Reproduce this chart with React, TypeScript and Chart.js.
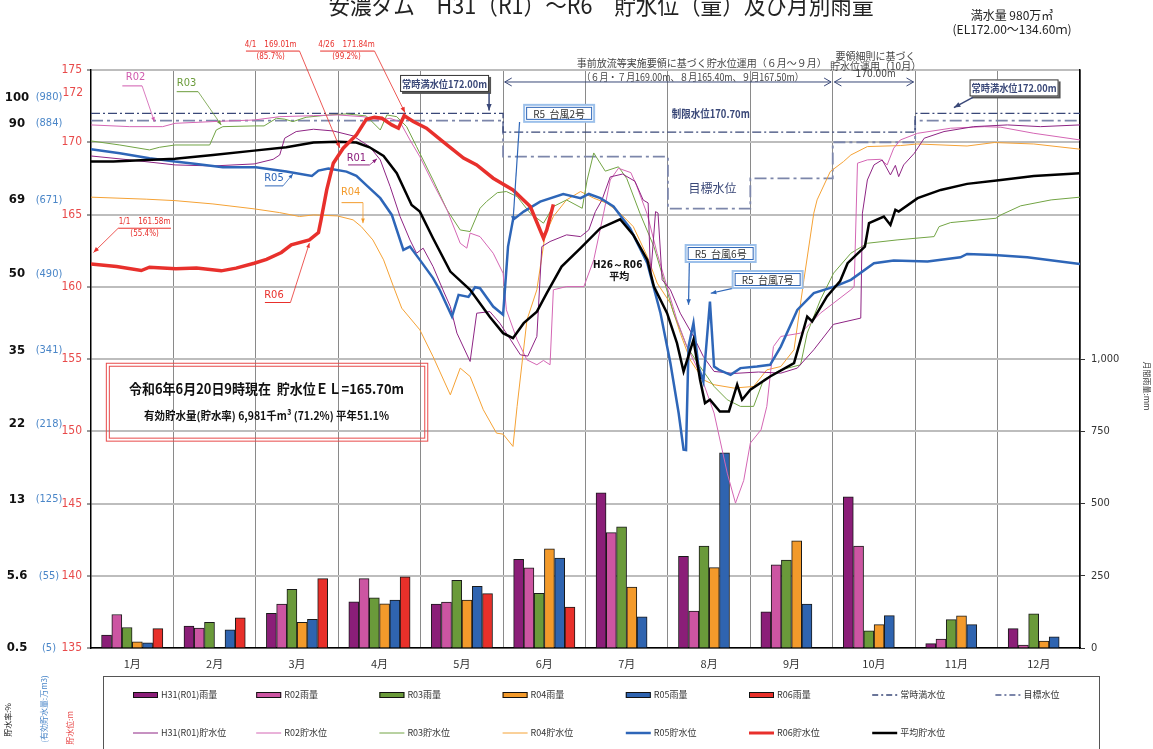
import React, { useEffect, useRef } from 'react';
import { Chart, registerables } from 'chart.js';
Chart.register(...registerables);

const JP = "'Noto Sans CJK JP', 'Noto Sans', sans-serif";
const NUM = "'DejaVu Sans Condensed', 'Liberation Sans Narrow', 'DejaVu Sans', sans-serif";

// ---------- categories / ticks ----------
const months = ['1月', '2月', '3月', '4月', '5月', '6月', '7月', '8月', '9月', '10月', '11月', '12月'];
const pctLabels = ['100', '90', '69', '50', '35', '22', '13', '5.6', '0.5'];
const volLabels = ['(980)', '(884)', '(671)', '(490)', '(341)', '(218)', '(125)', '(55)', '(5)'];
const storageLabelElev = [173.1, 171.3, 166.0, 160.9, 155.6, 150.5, 145.3, 140.0, 135.0];

// ---------- monthly rainfall (mm) ----------
const rainH31 = [45, 76, 120, 160, 152, 307, 537, 317, 125, 523, 15, 67];
const rainR02 = [116, 69, 152, 240, 159, 277, 399, 128, 288, 353, 31, 10];
const rainR03 = [71, 89, 203, 174, 234, 189, 419, 353, 304, 59, 98, 118];
const rainR04 = [21, null, 89, 153, 166, 343, 211, 278, 371, 81, 111, 24];
const rainR05 = [18, 63, 99, 166, 213, 311, 108, 675, 152, 112, 81, 39];
const rainR06 = [67, 104, 240, 246, 188, 142, null, null, null, null, null, null];

// ---------- water level (x = month position 0..12, y = EL m) ----------
const levelR06 = [[0, 161.58], [0.31, 161.4], [0.61, 161.12], [0.71, 161.35], [1.03, 161.24], [1.28, 161.29], [1.58, 161.1], [1.76, 161.29], [1.98, 161.63], [2.13, 161.9], [2.31, 162.37], [2.43, 162.9], [2.65, 163.24], [2.76, 163.75], [2.79, 164.6], [2.86, 166.7], [2.94, 168.55], [3.06, 169.59], [3.22, 170.5], [3.34, 171.59], [3.44, 171.73], [3.53, 171.66], [3.65, 171.2], [3.73, 170.97], [3.8, 171.84], [3.91, 171.43], [4.07, 170.97], [4.27, 170.04], [4.52, 168.9], [4.68, 168.43], [4.88, 167.51], [5.12, 166.7], [5.33, 165.55], [5.49, 163.36], [5.53, 163.93], [5.61, 165.7]];
const levelR05 = [[0, 169.52], [0.35, 169.24], [0.71, 168.9], [1.02, 168.66], [1.28, 168.5], [1.6, 168.27], [2.0, 168.27], [2.37, 167.97], [2.68, 167.67], [2.76, 168.04], [2.88, 168.18], [3.1, 167.97], [3.22, 167.67], [3.36, 166.93], [3.51, 166.13], [3.65, 164.97], [3.79, 162.55], [3.87, 162.78], [3.99, 161.86], [4.15, 160.6], [4.23, 159.79], [4.38, 157.94], [4.46, 159.44], [4.58, 159.3], [4.66, 159.97], [4.72, 159.9], [4.88, 158.63], [5.0, 158.06], [5.06, 162.78], [5.12, 164.63], [5.25, 165.2], [5.45, 165.89], [5.73, 166.42], [5.94, 166.13], [6.04, 166.42], [6.18, 166.13], [6.34, 165.55], [6.54, 164.05], [6.75, 161.63], [6.91, 158.17], [7.03, 154.72], [7.13, 151.26], [7.19, 148.72], [7.22, 148.7], [7.25, 155.86], [7.31, 157.48], [7.37, 154.48], [7.43, 153.44], [7.51, 158.98], [7.56, 154.48], [7.62, 154.25], [7.76, 153.9], [7.88, 154.37], [8.08, 154.48], [8.24, 154.6], [8.37, 155.86], [8.57, 158.4], [8.77, 159.56], [9.02, 160.01], [9.22, 160.48], [9.5, 161.63], [9.74, 161.81], [10.15, 161.74], [10.55, 162.04], [10.63, 162.27], [10.96, 162.2], [11.36, 162.04], [12, 161.58]];
const levelAvg = [[0, 168.66], [0.27, 168.66], [0.67, 168.78], [1.02, 168.85], [1.48, 169.12], [1.98, 169.42], [2.37, 169.65], [2.7, 169.98], [2.99, 170.04], [3.22, 169.98], [3.38, 169.65], [3.55, 169.05], [3.71, 167.86], [3.89, 165.66], [3.99, 165.2], [4.15, 163.36], [4.36, 161.05], [4.6, 159.79], [4.84, 157.9], [5.0, 156.79], [5.12, 156.44], [5.25, 157.48], [5.41, 158.28], [5.53, 159.56], [5.71, 161.4], [5.94, 162.67], [6.18, 164.05], [6.42, 164.67], [6.58, 163.59], [6.75, 161.86], [6.83, 160.01], [6.99, 158.17], [7.11, 156.1], [7.19, 154.14], [7.31, 156.33], [7.39, 153.56], [7.45, 151.95], [7.51, 152.18], [7.63, 151.37], [7.74, 151.37], [7.84, 153.22], [7.9, 152.18], [8.0, 152.87], [8.24, 153.79], [8.53, 154.72], [8.69, 157.94], [8.75, 157.6], [8.93, 159.33], [9.09, 160.4], [9.18, 161.63], [9.39, 162.78], [9.44, 164.4], [9.62, 164.86], [9.7, 164.28], [9.76, 165.32], [9.8, 165.2], [10.03, 166.13], [10.31, 166.7], [10.63, 167.12], [11.04, 167.39], [11.44, 167.67], [12, 167.86]];
const levelH31 = [[0, 169.05], [0.47, 168.78], [1.02, 168.43], [1.48, 168.36], [1.98, 168.5], [2.21, 168.82], [2.29, 169.12], [2.35, 170.28], [2.49, 170.74], [2.7, 170.9], [2.94, 170.78], [3.18, 170.44], [3.38, 169.7], [3.51, 168.78], [3.63, 166.93], [3.75, 164.86], [3.87, 163.24], [3.95, 162.32], [4.03, 162.67], [4.15, 161.4], [4.27, 159.79], [4.36, 158.63], [4.44, 156.79], [4.6, 154.83], [4.68, 158.17], [4.84, 158.28], [4.96, 157.48], [5.21, 155.29], [5.3, 155.2], [5.41, 156.56], [5.47, 162.78], [5.57, 163.13], [5.77, 163.59], [5.94, 163.47], [6.04, 163.93], [6.12, 165.2], [6.2, 166.01], [6.3, 167.6], [6.45, 167.8], [6.6, 167.3], [6.7, 166.0], [6.76, 165.8], [6.79, 160.71], [6.85, 165.2], [6.88, 165.1], [6.93, 160.48], [7.03, 159.79], [7.15, 158.17], [7.31, 156.56], [7.43, 155.17], [7.56, 154.14], [7.8, 154.0], [8.1, 154.1], [8.37, 154.02], [8.57, 154.37], [8.77, 155.64], [9.01, 157.4], [9.34, 157.83], [9.36, 165.09], [9.42, 167.39], [9.5, 168.43], [9.6, 168.78], [9.7, 167.74], [9.76, 168.4], [9.8, 167.62], [9.86, 168.43], [9.99, 169.24], [10.11, 170.28], [10.35, 170.74], [10.71, 171.08], [11.12, 171.2], [11.52, 171.08], [12, 171.2]];
const levelR02 = [[0, 171.2], [0.47, 171.08], [0.87, 171.08], [1.02, 171.31], [1.48, 171.43], [1.98, 171.54], [2.29, 171.77], [2.7, 171.84], [2.99, 171.89], [3.3, 171.77], [3.51, 171.54], [3.63, 171.66], [3.75, 171.4], [3.87, 170.16], [3.99, 169.0], [4.15, 167.16], [4.32, 165.32], [4.48, 163.01], [4.56, 162.67], [4.6, 163.71], [4.72, 163.47], [4.88, 162.32], [5.0, 160.94], [5.04, 158.4], [5.17, 156.33], [5.29, 154.94], [5.41, 154.6], [5.49, 154.9], [5.57, 154.6], [5.61, 159.79], [5.77, 160.01], [5.98, 160.01], [6.1, 161.86], [6.22, 165.09], [6.3, 167.39], [6.4, 168.2], [6.55, 167.9], [6.62, 167.0], [6.75, 165.0], [6.87, 162.3], [6.99, 160.0], [7.11, 157.7], [7.23, 155.86], [7.39, 154.0], [7.56, 151.26], [7.72, 147.1], [7.82, 145.03], [7.92, 146.6], [8.0, 149.18], [8.13, 150.1], [8.2, 151.72], [8.28, 155.86], [8.37, 156.56], [8.61, 156.79], [8.85, 158.17], [9.22, 159.79], [9.26, 160.01], [9.3, 168.55], [9.42, 168.78], [9.58, 168.82], [9.66, 168.43], [9.74, 169.59], [9.82, 170.16], [10.03, 170.62], [10.43, 170.97], [10.84, 171.08], [11.04, 171.04], [11.44, 170.62], [12, 170.16]];
const levelR03 = [[0, 170.09], [0.35, 169.81], [0.71, 169.47], [0.83, 169.65], [1.02, 169.81], [1.44, 169.81], [1.52, 170.85], [1.6, 171.08], [1.98, 171.13], [2.1, 171.13], [2.25, 171.66], [2.35, 171.6], [2.45, 171.43], [2.61, 171.73], [2.89, 171.89], [3.1, 171.96], [3.34, 171.82], [3.51, 170.85], [3.59, 171.89], [3.71, 171.77], [3.83, 171.08], [3.95, 169.7], [4.15, 167.39], [4.32, 165.32], [4.48, 163.93], [4.6, 163.82], [4.72, 165.43], [4.8, 165.9], [4.93, 166.51], [5.04, 166.59], [5.17, 166.24], [5.33, 165.09], [5.49, 164.4], [5.61, 165.55], [5.77, 166.01], [5.96, 165.43], [6.02, 167.39], [6.1, 169.26], [6.24, 168.0], [6.4, 168.3], [6.5, 167.5], [6.66, 165.09], [6.83, 162.78], [6.95, 160.48], [7.07, 158.17], [7.23, 155.86], [7.39, 154.48], [7.56, 153.1], [7.72, 152.18], [7.88, 151.72], [8.04, 151.72], [8.16, 153.56], [8.37, 154.25], [8.61, 154.6], [8.69, 156.79], [8.85, 159.09], [9.01, 160.94], [9.22, 162.32], [9.42, 163.01], [9.78, 163.24], [10.23, 163.47], [10.29, 164.16], [10.43, 164.44], [10.98, 164.74], [11.04, 164.97], [11.28, 165.6], [11.65, 166.01], [12, 166.2]];
const levelR04 = [[0, 166.2], [0.67, 166.06], [1.02, 165.96], [1.48, 165.73], [1.98, 165.39], [2.29, 165.13], [2.53, 164.86], [2.7, 164.97], [2.99, 164.9], [3.18, 164.63], [3.28, 164.16], [3.42, 163.24], [3.55, 161.86], [3.67, 160.01], [3.77, 158.52], [3.99, 157.02], [4.15, 155.17], [4.36, 152.52], [4.48, 154.37], [4.6, 153.79], [4.76, 151.49], [4.92, 149.87], [5.0, 149.8], [5.12, 148.95], [5.17, 151.72], [5.29, 157.71], [5.41, 159.79], [5.51, 163.59], [5.61, 164.86], [5.77, 166.01], [5.94, 166.59], [6.1, 166.13], [6.26, 165.78], [6.42, 165.09], [6.58, 164.16], [6.75, 162.09], [6.87, 160.25], [7.03, 158.86], [7.15, 156.79], [7.27, 154.94], [7.43, 153.56], [7.56, 153.22], [7.8, 152.99], [8.04, 153.1], [8.2, 154.25], [8.37, 154.48], [8.53, 155.64], [8.65, 160.48], [8.77, 165.09], [8.81, 166.01], [8.97, 167.97], [9.13, 168.66], [9.22, 169.12], [9.42, 169.7], [9.82, 169.77], [10.03, 169.88], [10.63, 169.74], [10.96, 169.98], [11.44, 169.88], [12, 169.52]];
// reference levels
const fullLevel = [[0, 172], [5, 172], [5, 170.7], [10, 170.7], [10, 172], [12, 172]];
const targetLevel = [[0, 171.5], [5, 171.5], [5, 169], [7, 169], [7, 165.4], [8, 165.4], [8, 167.5], [9, 167.5], [9, 170], [10, 170], [10, 171.5], [12, 171.5]];

const toXY = (arr) => arr.map(([x, y]) => ({ x, y }));
const BAR_SLOT = 0.1245; // share of one month taken by each bar of a group (6 bars)

const barDs = (label, data, color, k) => ({
  type: 'bar', label,
  data: data.map((v, i) => ({ x: i + 0.5 + (k - 2.5) * BAR_SLOT, y: v })),
  backgroundColor: color, borderColor: '#1a1a1a', borderWidth: 1,
  xAxisID: 'x2', yAxisID: 'y2', order: 50, barThickness: 10, grouped: false,
  legendRow: 0, legendCol: k, legendKind: 'bar',
});
const lineDs = (label, pts, color, width, col, row, order, dash = []) => ({
  type: 'line', label, data: toXY(pts), borderColor: color, backgroundColor: color, borderWidth: width,
  pointRadius: 0, pointHoverRadius: 0, tension: 0, fill: false, xAxisID: 'x2', yAxisID: 'y', order,
  borderDash: dash, legendRow: row, legendCol: col, legendKind: 'line',
});

function txt(ctx, s, x, y, font, color, align = 'center', maxW = 0) {
  ctx.font = font; ctx.fillStyle = color; ctx.textAlign = align; ctx.textBaseline = 'middle';
  if (maxW) ctx.fillText(s, x, y, maxW); else ctx.fillText(s, x, y);
}
function seg(ctx, x1, y1, x2, y2, color, lw = 1) {
  ctx.strokeStyle = color; ctx.lineWidth = lw; ctx.beginPath(); ctx.moveTo(x1, y1); ctx.lineTo(x2, y2); ctx.stroke();
}
function arrow(ctx, x1, y1, x2, y2, color, lw = 1, head = 6) {
  seg(ctx, x1, y1, x2, y2, color, lw);
  const a = Math.atan2(y2 - y1, x2 - x1);
  ctx.fillStyle = color; ctx.beginPath(); ctx.moveTo(x2, y2);
  ctx.lineTo(x2 - head * Math.cos(a - 0.38), y2 - head * Math.sin(a - 0.38));
  ctx.lineTo(x2 - head * Math.cos(a + 0.38), y2 - head * Math.sin(a + 0.38));
  ctx.closePath(); ctx.fill();
}
function chevArrow(ctx, x1, x2, y, color) {
  seg(ctx, x1, y, x2, y, color, 1);
  seg(ctx, x1, y, x1 + 7, y - 4, color); seg(ctx, x1, y, x1 + 7, y + 4, color);
  seg(ctx, x2, y, x2 - 7, y - 4, color); seg(ctx, x2, y, x2 - 7, y + 4, color);
}
function rot(ctx, s, x, y, ang, font, color) {
  ctx.save(); ctx.translate(x, y); ctx.rotate(ang); txt(ctx, s, 0, 0, font, color); ctx.restore();
}

const seriesTags = [
  { text: 'R02', color: '#D05AAE', m: 0.54, e: 174.5, u1: 0.38, u2: 0.62, ue: 173.9, to: [0.77, 171.42] },
  { text: 'R03', color: '#6C9C3C', m: 1.16, e: 174.1, u1: 1.04, u2: 1.3, ue: 173.5, to: [1.58, 171.2] },
  { text: 'R01', color: '#8B1E7C', m: 3.22, e: 168.9, u1: 3.12, u2: 3.38, ue: 168.43, to: [3.47, 168.85] },
  { text: 'R05', color: '#2E66B8', m: 2.22, e: 167.51, u1: 2.11, u2: 2.33, ue: 166.98, to: [2.45, 167.81] },
  { text: 'R04', color: '#F39B2C', m: 3.15, e: 166.52, u1: 3.04, u2: 3.3, ue: 165.82, to: [3.3, 164.4] },
  { text: 'R06', color: '#E8302C', m: 2.22, e: 159.44, u1: 2.11, u2: 2.42, ue: 158.91, to: [2.65, 163.02] },
];
const redNotes = [
  { l1: '1/1　161.58m', l2: '(55.4%)', m: 0.65, u1: 0.33, u2: 0.97, ue: 164.05, from: [0.33, 164.05], to: [0.03, 162.37] },
  { l1: '4/1　169.01m', l2: '(85.7%)', m: 2.18, u1: 1.88, u2: 2.53, ue: 176.31, from: [2.53, 176.31], to: [3.02, 169.6] },
  { l1: '4/26　171.84m', l2: '(99.2%)', m: 3.1, u1: 2.78, u2: 3.44, ue: 176.31, from: [3.44, 176.31], to: [3.81, 172.05] },
];
const typhoons = [
  { text: 'R5  台風2号', m: 5.68, e: 172.0, from: [5.2, 171.4], to: [5.12, 164.5] },
  { text: 'R5  台風6号', m: 7.64, e: 162.3, from: [7.26, 161.7], to: [7.25, 158.75] },
  { text: 'R5  台風7号', m: 8.21, e: 160.5, from: [7.8, 159.9], to: [7.52, 159.55] },
];

const extrasPlugin = {
  id: 'extras',
  afterDraw(chart) {
    const ctx = chart.ctx;
    const X = (m) => chart.scales.x2.getPixelForValue(m);
    const Y = (e) => chart.scales.y.getPixelForValue(e);
    ctx.save();

    // title
    txt(ctx, '安濃ダム　H31（R1）～R6　貯水位（量）及び月別雨量', 601, 5, `24px ${JP}`, '#222', 'center', 545);
    txt(ctx, '満水量 980万㎥', 1012, 15, `12px ${JP}`, '#222');
    txt(ctx, '(EL172.00～134.60ｍ)', 1012, 29, `12px ${JP}`, '#222', 'center', 128);

    // left storage columns
    pctLabels.forEach((s, i) => txt(ctx, s, 17, Y(storageLabelElev[i]), `bold 13px ${NUM}`, '#111'));
    volLabels.forEach((s, i) => txt(ctx, s, 49, Y(storageLabelElev[i]), `11px ${NUM}`, '#4a86c8'));
    txt(ctx, '172', 83, Y(173.4), `12px ${NUM}`, '#E84A4A', 'right');
    rot(ctx, '貯水率:%', 8, 720, -Math.PI / 2, `8px ${JP}`, '#222');
    rot(ctx, '(有効貯水量:万m3)', 44, 709, -Math.PI / 2, `8px ${JP}`, '#4a86c8');
    rot(ctx, '貯水位:m', 70, 728, -Math.PI / 2, `8px ${JP}`, '#E84A4A');
    rot(ctx, '月間雨量:mm', 1147, 386, Math.PI / 2, `8px ${JP}`, '#333');

    // operation notes
    const navy = '#3A4878';
    txt(ctx, '事前放流等実施要領に基づく貯水位運用（６月～９月）', X(7.41), Y(175.48), `10px ${JP}`, '#444', 'center', 250);
    txt(ctx, '（６月・７月169.00m、８月165.40m、９月167.50m）', X(7.3), Y(174.52), `10px ${JP}`, '#444', 'center', 222);
    chevArrow(ctx, X(5.02), X(8.98), Y(174.17), navy);
    txt(ctx, '要領細則に基づく', X(9.52), Y(175.97), `10px ${JP}`, '#444');
    txt(ctx, '貯水位運用（10月）', X(9.52), Y(175.28), `10px ${JP}`, '#444');
    txt(ctx, '170.00m', X(9.52), Y(174.72), `10px ${NUM}`, '#444');
    chevArrow(ctx, X(9.02), X(9.98), Y(174.17), navy);
    txt(ctx, '制限水位170.70m', X(7.52), Y(171.96), `bold 11px ${JP}`, navy, 'center', 78);
    txt(ctx, '目標水位', X(7.54), Y(166.77), `12px ${JP}`, navy);

    // full water level boxes
    const fullBox = (m, e, am1, ae1, am2, ae2) => {
      const cx = X(m), cy = Y(e), w = 89, h = 17;
      ctx.fillStyle = '#555'; ctx.fillRect(cx - w / 2 + 2, cy - h / 2 + 2, w, h);
      ctx.fillStyle = '#fff'; ctx.fillRect(cx - w / 2, cy - h / 2, w, h);
      ctx.strokeStyle = '#333'; ctx.lineWidth = 1; ctx.strokeRect(cx - w / 2 + 0.5, cy - h / 2 + 0.5, w - 1, h - 1);
      txt(ctx, '常時満水位172.00m', cx, cy + 0.5, `bold 10px ${JP}`, navy, 'center', w - 4);
      arrow(ctx, X(am1), Y(ae1), X(am2), Y(ae2), navy, 1.5, 7);
    };
    fullBox(4.29, 174.07, 4.83, 173.4, 4.83, 172.2);
    fullBox(11.2, 173.76, 10.7, 173.1, 10.47, 172.4);

    // typhoon boxes
    typhoons.forEach((t) => {
      const cx = X(t.m), cy = Y(t.e), w = 70, h = 17;
      arrow(ctx, X(t.from[0]), Y(t.from[1]), X(t.to[0]), Y(t.to[1]), '#2E66B8', 1.2, 6);
      ctx.fillStyle = '#fff'; ctx.fillRect(cx - w / 2, cy - h / 2, w, h);
      ctx.strokeStyle = '#9cc0ea'; ctx.lineWidth = 2; ctx.strokeRect(cx - w / 2, cy - h / 2, w, h);
      ctx.strokeStyle = '#2E66B8'; ctx.lineWidth = 1; ctx.strokeRect(cx - w / 2 + 2.5, cy - h / 2 + 2.5, w - 5, h - 5);
      txt(ctx, t.text, cx, cy + 0.5, `10px ${JP}`, '#333');
    });

    // average label
    txt(ctx, 'H26～R06', X(6.39), Y(161.5), `bold 10px ${NUM}`, '#111');
    txt(ctx, '平均', X(6.41), Y(160.7), `bold 10px ${JP}`, '#111');

    // series tags
    seriesTags.forEach((t) => {
      txt(ctx, t.text, X(t.m), Y(t.e), `11px ${NUM}`, t.color);
      seg(ctx, X(t.u1), Y(t.ue), X(t.u2), Y(t.ue), t.color, 1);
      arrow(ctx, X(t.u2), Y(t.ue), X(t.to[0]), Y(t.to[1]), t.color, 0.8, 5);
    });

    // red notes
    redNotes.forEach((n) => {
      const red = '#E8302C';
      txt(ctx, n.l1, X(n.m), Y(n.ue) - 6, `8px ${NUM}`, red);
      txt(ctx, n.l2, X(n.m), Y(n.ue) + 6, `8px ${NUM}`, red);
      seg(ctx, X(n.u1), Y(n.ue), X(n.u2), Y(n.ue), red, 1);
      arrow(ctx, X(n.from[0]), Y(n.from[1]), X(n.to[0]), Y(n.to[1]), red, 0.8, 6);
    });

    // info box
    const bx1 = X(0.18), bx2 = X(4.08), by1 = Y(154.74), by2 = Y(149.35);
    ctx.strokeStyle = '#E84A4A'; ctx.lineWidth = 1;
    ctx.strokeRect(bx1 + 0.5, by1 + 0.5, bx2 - bx1, by2 - by1);
    ctx.strokeRect(bx1 + 3.5, by1 + 3.5, bx2 - bx1 - 6, by2 - by1 - 6);
    const bcx = (bx1 + bx2) / 2;
    txt(ctx, '令和6年6月20日9時現在  貯水位ＥＬ=165.70m', bcx, Y(152.94), `bold 14px ${JP}`, '#111', 'center', 275);
    txt(ctx, '有効貯水量(貯水率) 6,981千m³ (71.2%) 平年51.1%', bcx, Y(151.07), `bold 11px ${JP}`, '#111', 'center', 245);

    ctx.restore();
  },
};

const legendPlugin = {
  id: 'boxLegend',
  afterDraw(chart) {
    const ctx = chart.ctx;
    ctx.save();
    ctx.strokeStyle = '#555'; ctx.lineWidth = 1; ctx.strokeRect(103.5, 676.5, 996, 90);
    chart.data.datasets.forEach((ds) => {
      if (ds.legendRow == null) return;
      const x = 133 + ds.legendCol * 123.2;
      const y = ds.legendRow === 0 ? 695 : 733;
      if (ds.legendKind === 'bar') {
        ctx.fillStyle = ds.backgroundColor; ctx.fillRect(x, y - 3, 25, 6);
        ctx.strokeStyle = '#111'; ctx.lineWidth = 1; ctx.strokeRect(x + 0.5, y - 2.5, 24, 5);
      } else {
        ctx.setLineDash(ds.borderDash && ds.borderDash.length ? [6, 3, 2, 3] : []);
        seg(ctx, x, y, x + 25, y, ds.borderColor, Math.min(ds.borderWidth, 3));
        ctx.setLineDash([]);
      }
      txt(ctx, ds.label, x + 28, y, `9px ${JP}`, '#333', 'left', 90);
    });
    ctx.restore();
  },
};

export default function App() {
  const ref = useRef(null);
  useEffect(() => {
    document.body.style.margin = '0';
    const datasets = [
      barDs('H31(R01)雨量', rainH31, '#8B1E78', 0),
      barDs('R02雨量', rainR02, '#CC55A2', 1),
      barDs('R03雨量', rainR03, '#6A9A3A', 2),
      barDs('R04雨量', rainR04, '#F39A2B', 3),
      barDs('R05雨量', rainR05, '#2F64B0', 4),
      barDs('R06雨量', rainR06, '#E8302A', 5),
      lineDs('R06貯水位', levelR06, '#E8302C', 3.5, 5, 1, 1),
      lineDs('平均貯水位', levelAvg, '#000000', 2.5, 6, 1, 2),
      lineDs('R05貯水位', levelR05, '#2E66B8', 2.5, 4, 1, 3),
      lineDs('H31(R01)貯水位', levelH31, '#8E2484', 1, 0, 1, 4),
      lineDs('R02貯水位', levelR02, '#D466B4', 1, 1, 1, 5),
      lineDs('R03貯水位', levelR03, '#72A444', 1, 2, 1, 6),
      lineDs('R04貯水位', levelR04, '#F5A235', 1, 3, 1, 7),
      lineDs('常時満水位', fullLevel, '#3A4878', 1.3, 6, 0, 8, [9, 3, 2, 3]),
      lineDs('目標水位', targetLevel, '#7C86AA', 1.8, 7, 0, 9, [12, 4, 3, 4]),
    ];
    const chart = new Chart(ref.current, {
      type: 'bar',
      data: { labels: months, datasets },
      options: {
        responsive: false,
        maintainAspectRatio: false,
        devicePixelRatio: 1,
        animation: false,
        layout: { padding: { top: 70, left: 0, right: 0, bottom: 0 } },
        plugins: { legend: { display: false }, tooltip: { enabled: false }, title: { display: false } },
        scales: {
          x: {
            type: 'category', position: 'bottom', offset: true,
            grid: { offset: true, color: '#8a8a8a', lineWidth: 1, drawTicks: false },
            border: { display: true, color: '#000', width: 1.5 },
            ticks: { color: '#333', font: { size: 11, family: JP }, padding: 9 },
            afterFit: (s) => { s.height = 101; },
          },
          x2: { type: 'linear', position: 'bottom', min: 0, max: 12, offset: false, display: false, grid: { offset: false } },
          y: {
            type: 'linear', position: 'left', min: 135, max: 175,
            ticks: { stepSize: 5, color: '#E84A4A', font: { size: 12, family: NUM }, padding: 5 },
            grid: { color: '#bdbdbd', lineWidth: 2, tickLength: 4, tickColor: '#333', tickWidth: 1 },
            border: { display: true, color: '#000', width: 1.5 },
            afterFit: (s) => { s.width = 91; },
          },
          y2: {
            type: 'linear', position: 'right', min: 0, max: 2000,
            afterBuildTicks: (s) => { s.ticks = s.ticks.filter((t) => t.value <= 1000); },
            ticks: { stepSize: 250, color: '#333', font: { size: 11, family: NUM }, padding: 6,
              callback: (v) => Number(v).toLocaleString('en-US') },
            grid: { drawOnChartArea: false, drawTicks: true, tickLength: 5, color: '#333' },
            border: { display: true, color: '#000', width: 1.5 },
            afterFit: (s) => { s.width = 73; },
          },
        },
      },
      plugins: [extrasPlugin, legendPlugin],
    });
    return () => chart.destroy();
  }, []);
  return <canvas ref={ref} width={1153} height={749} style={{ display: 'block' }} />;
}
